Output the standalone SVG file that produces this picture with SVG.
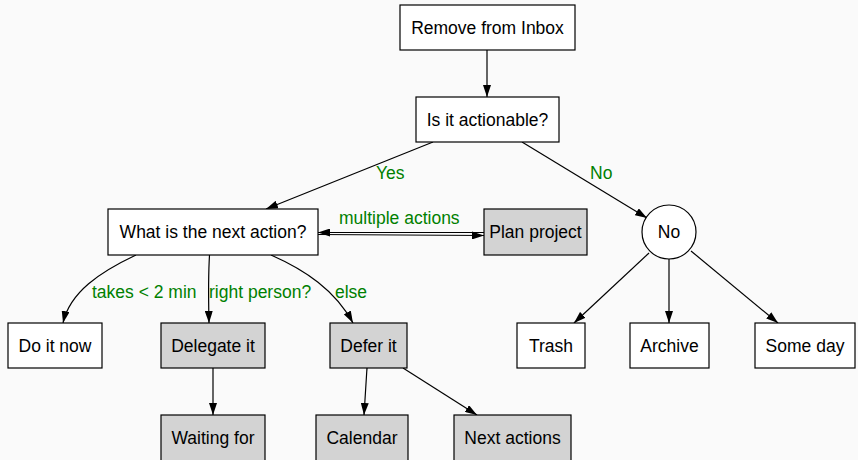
<svg xmlns="http://www.w3.org/2000/svg" width="858" height="460" viewBox="0 0 858 460">
  <defs>
    <marker id="arrow" viewBox="0 0 12 8" refX="12" refY="4" markerWidth="12" markerHeight="8" markerUnits="userSpaceOnUse" orient="auto">
      <path d="M0,0 L12,4 L0,8 Z" fill="#000"/>
    </marker>
  </defs>
  <style>
    .box { fill: #fff; stroke: #000; stroke-width: 1.2; }
    .grey { fill: #d3d3d3; stroke: #000; stroke-width: 1.2; }
    .txt { font-family: "Liberation Sans", Arial, sans-serif; font-size: 17.5px; fill: #000; text-anchor: middle; }
    .lbl { font-family: "Liberation Sans", Arial, sans-serif; font-size: 17.5px; fill: #008000; }
    .edge { fill: none; stroke: #000; stroke-width: 1.2; marker-end: url(#arrow); }
  </style>
  <rect width="858" height="460" fill="#fafafa"/>

  <g id="connectors">
    <path class="edge" d="M487,50 L487,97"/>
    <path class="edge" d="M433,142 L266,209"/>
    <path class="edge" d="M522,142 L647,218"/>
    <path class="edge" d="M318,234.5 L484,235.5"/>
    <path class="edge" d="M484,232.5 L318,232.5"/>
    <path class="edge" d="M136,255 C100,272 70,292 63,323"/>
    <path class="edge" d="M209.5,255 C208,280 208.5,300 209,323"/>
    <path class="edge" d="M271,255 C305,270 335,290 353,323"/>
    <path class="edge" d="M213,368 L213,415"/>
    <path class="edge" d="M367,368 L364,415"/>
    <path class="edge" d="M403,368 L477,415"/>
    <path class="edge" d="M649,253 L574,323"/>
    <path class="edge" d="M669,259 L669,323"/>
    <path class="edge" d="M691,251 L778,323"/>
    <text class="lbl" x="376" y="179">Yes</text>
    <text class="lbl" x="590" y="179">No</text>
    <text class="lbl" x="339" y="224">multiple actions</text>
    <text class="lbl" x="92" y="298">takes &lt; 2 min</text>
    <text class="lbl" x="209" y="298">right person?</text>
    <text class="lbl" x="335" y="298">else</text>
  </g>

  <g id="inbox"><rect class="box" x="400" y="5" width="175" height="45"/><text class="txt" x="487.5" y="33.5">Remove from Inbox</text></g>
  <g id="actionable"><rect class="box" x="416" y="97" width="143" height="45"/><text class="txt" x="487.5" y="125.5">Is it actionable?</text></g>
  <g id="next-action"><rect class="box" x="108" y="209" width="210" height="46"/><text class="txt" x="213" y="238">What is the next action?</text></g>
  <g id="plan-project"><rect class="grey" x="484" y="209" width="103" height="46"/><text class="txt" x="535.5" y="238">Plan project</text></g>
  <g id="no"><circle class="box" cx="669" cy="232" r="27"/><text class="txt" x="669" y="238">No</text></g>
  <g id="do-it-now"><rect class="box" x="8" y="323" width="94" height="45"/><text class="txt" x="55" y="351.5">Do it now</text></g>
  <g id="delegate"><rect class="grey" x="161" y="323" width="104" height="45"/><text class="txt" x="213" y="351.5">Delegate it</text></g>
  <g id="defer"><rect class="grey" x="330" y="323" width="77" height="45"/><text class="txt" x="368.5" y="351.5">Defer it</text></g>
  <g id="trash"><rect class="box" x="517" y="323" width="68" height="45"/><text class="txt" x="551" y="351.5">Trash</text></g>
  <g id="archive"><rect class="box" x="630" y="323" width="79" height="45"/><text class="txt" x="669.5" y="351.5">Archive</text></g>
  <g id="some-day"><rect class="box" x="755" y="323" width="100" height="45"/><text class="txt" x="805" y="351.5">Some day</text></g>
  <g id="waiting-for"><rect class="grey" x="161" y="415" width="104" height="46"/><text class="txt" x="213" y="444">Waiting for</text></g>
  <g id="calendar"><rect class="grey" x="316" y="415" width="92" height="46"/><text class="txt" x="362" y="444">Calendar</text></g>
  <g id="next-actions"><rect class="grey" x="454" y="415" width="117" height="46"/><text class="txt" x="512.5" y="444">Next actions</text></g>
</svg>
